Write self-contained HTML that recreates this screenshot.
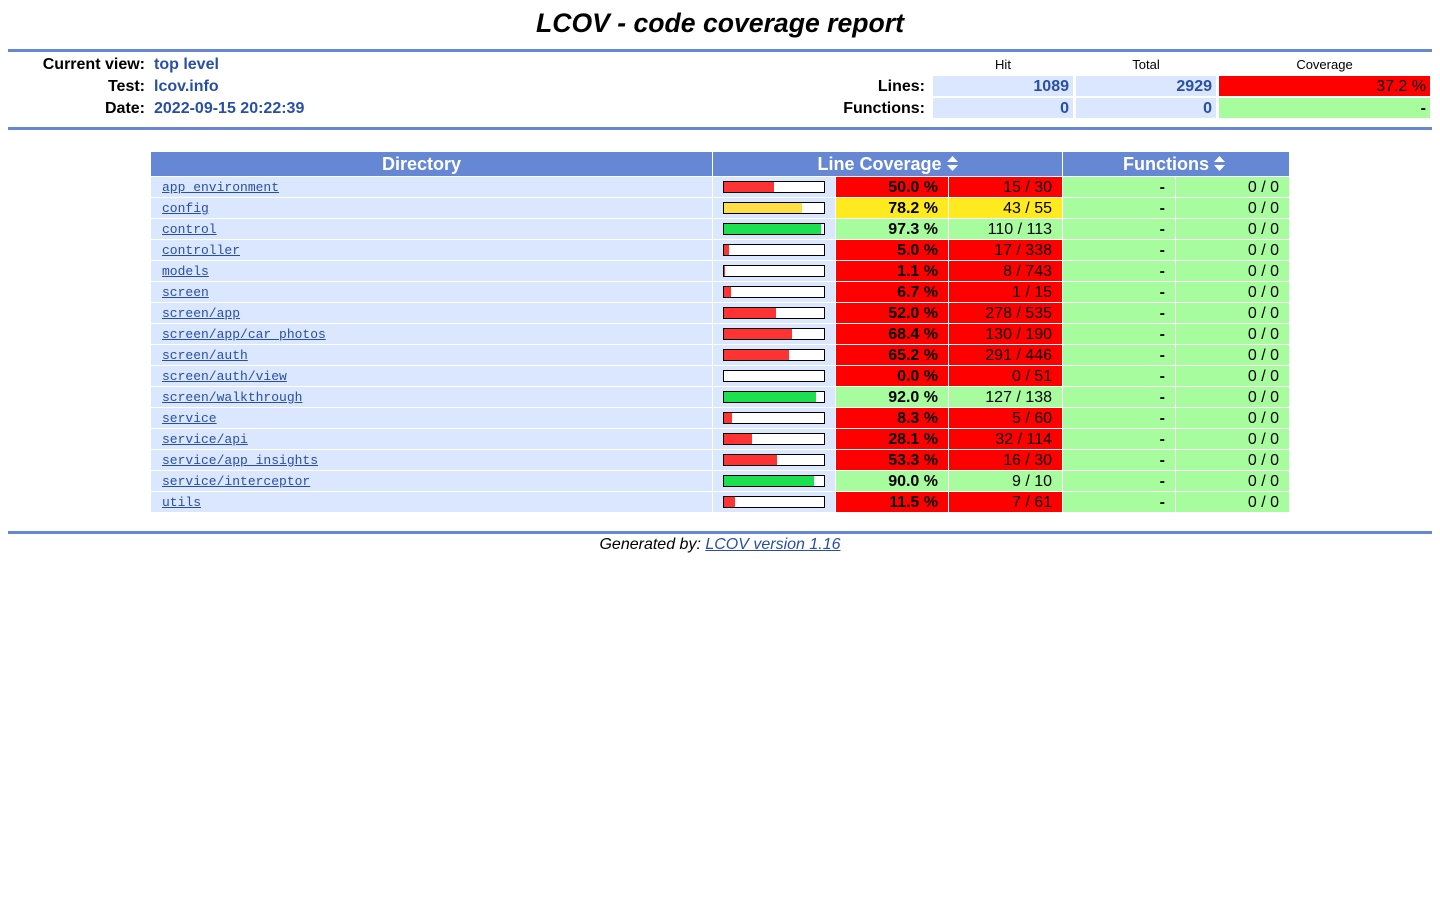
<!DOCTYPE html>
<html><head><meta charset="utf-8"><style>
body{margin:0;width:1440px;height:900px;background:#fff;font-family:"Liberation Sans",sans-serif;position:relative;overflow:hidden}
.a{position:absolute;box-sizing:border-box}
.t{font-size:26.6px;font-weight:bold;font-style:italic;left:0;width:1440px;text-align:center;top:8px}
.rule{left:8px;width:1424px;height:3px;background:#6688d4}
.lbl{font-size:16px;font-weight:bold;text-align:right;width:145px;left:0}
.val{font-size:16px;font-weight:bold;color:#284fa8;left:154px}
.sh{font-size:13px;text-align:center;top:57px}
.sc{font-size:16px;font-weight:bold;text-align:right;padding-right:4px;height:20px;line-height:21px;color:#284fa8}
.hd{background:#6688d4;color:#fff;font-weight:bold;font-size:18px;text-align:center;top:152px;height:24px;line-height:24px}
.c{height:20px;line-height:21px;font-size:16px;text-align:right;padding-right:10px}
.dir{background:#dae7fe;text-align:left;padding-left:11px;font-family:"Liberation Mono",monospace;font-size:13px}
.dir a{color:#284fa8}
.bar{border:1px solid #000;height:12px;background:#fff}
</style></head><body>
<div class="a t">LCOV - code coverage report</div>
<div class="a rule" style="top:49px"></div>
<div class="a lbl" style="top:56px">Current view:</div>
<div class="a val" style="top:56px">top level</div>
<div class="a lbl" style="top:78px">Test:</div>
<div class="a val" style="top:78px">lcov.info</div>
<div class="a lbl" style="top:100px">Date:</div>
<div class="a val" style="top:100px">2022-09-15 20:22:39</div>
<div class="a sh" style="left:933px;width:140px">Hit</div>
<div class="a sh" style="left:1076px;width:140px">Total</div>
<div class="a sh" style="left:1219px;width:211px">Coverage</div>
<div class="a" style="font-size:16px;font-weight:bold;top:78px;left:700px;width:225px;text-align:right">Lines:</div>
<div class="a" style="font-size:16px;font-weight:bold;top:100px;left:700px;width:225px;text-align:right">Functions:</div>
<div class="a sc" style="top:76px;left:933px;width:140px;background:#dae7fe">1089</div>
<div class="a sc" style="top:76px;left:1076px;width:140px;background:#dae7fe">2929</div>
<div class="a sc" style="top:76px;left:1219px;width:211px;background:#ff0000;color:#000;font-weight:normal">37.2 %</div>
<div class="a sc" style="top:98px;left:933px;width:140px;background:#dae7fe">0</div>
<div class="a sc" style="top:98px;left:1076px;width:140px;background:#dae7fe">0</div>
<div class="a sc" style="top:98px;left:1219px;width:211px;background:#a7fc9d;color:#000">-</div>
<div class="a rule" style="top:127px"></div>
<div class="a hd" style="left:151px;width:561px;padding-right:20px">Directory</div>
<div class="a hd" style="left:713px;width:349px">Line Coverage <svg width="11" height="15" viewBox="0 0 11 15" style="vertical-align:-1px"><path d="M5.5 0L11 6H0Z M0 9H11L5.5 15Z" fill="#fff"/></svg></div>
<div class="a hd" style="left:1063px;width:226px;padding-right:4px">Functions <svg width="11" height="15" viewBox="0 0 11 15" style="vertical-align:-1px"><path d="M5.5 0L11 6H0Z M0 9H11L5.5 15Z" fill="#fff"/></svg></div>
<div id="rows"></div>
<div class="a rule" style="top:531px"></div>
<div class="a" style="top:536px;left:0;width:1440px;text-align:center;font-size:16px;font-style:italic">Generated by: <a href="#" style="color:#284fa8">LCOV version 1.16</a></div>
<script>
const dirs=["app_environment","config","control","controller","models","screen","screen/app","screen/app/car_photos","screen/auth","screen/auth/view","screen/walkthrough","service","service/api","service/app_insights","service/interceptor","utils"];
const hits=[15,43,110,17,8,1,278,130,291,0,127,5,32,16,9,7];
const totals=[30,55,113,338,743,15,535,190,446,51,138,60,114,30,10,61];
const root=document.getElementById('rows');
function cell(cls,x,w,y,bg){const d=document.createElement('div');d.className='a c '+cls;d.style.left=x+'px';d.style.width=w+'px';d.style.top=y+'px';d.style.background=bg;root.appendChild(d);return d;}
dirs.forEach((n,i)=>{
 const y=177+21*i;const p=hits[i]/totals[i]*100;
 const lvl=p>=90?'g':(p>=75?'y':'r');
 const bg={g:'#a7fc9d',y:'#ffea20',r:'#ff0000'}[lvl];
 const bc={g:'#1de050',y:'#ffdd44',r:'#ff3333'}[lvl];
 const d=cell('dir',151,561,y,'#dae7fe');
 
 
 const a=document.createElement('a');a.textContent=n;a.href='#';
 
 
 d.appendChild(a);
 const bcell=cell('',713,122,y,'#dae7fe');
 
 
 const bar=document.createElement('div');bar.className='a bar';bar.style.left='10px';bar.style.top='4px';bar.style.width='102px';
 
 
 const f=document.createElement('div');f.style.height='10px';f.style.width=Math.round(p)+'px';f.style.background=bc;
 
 
 bar.appendChild(f);bcell.appendChild(bar);
 const pc=cell('',836,112,y,bg);pc.style.fontWeight='bold';pc.textContent=p.toFixed(1)+' %';
 
 
 const cc=cell('',949,113,y,bg);cc.textContent=hits[i]+' / '+totals[i];
 
 
 const fp=cell('',1063,112,y,'#a7fc9d');fp.style.fontWeight='bold';fp.textContent='-';
 
 
 const fc=cell('',1176,113,y,'#a7fc9d');fc.textContent='0 / 0';
 
 
});
</script>
</body></html>
